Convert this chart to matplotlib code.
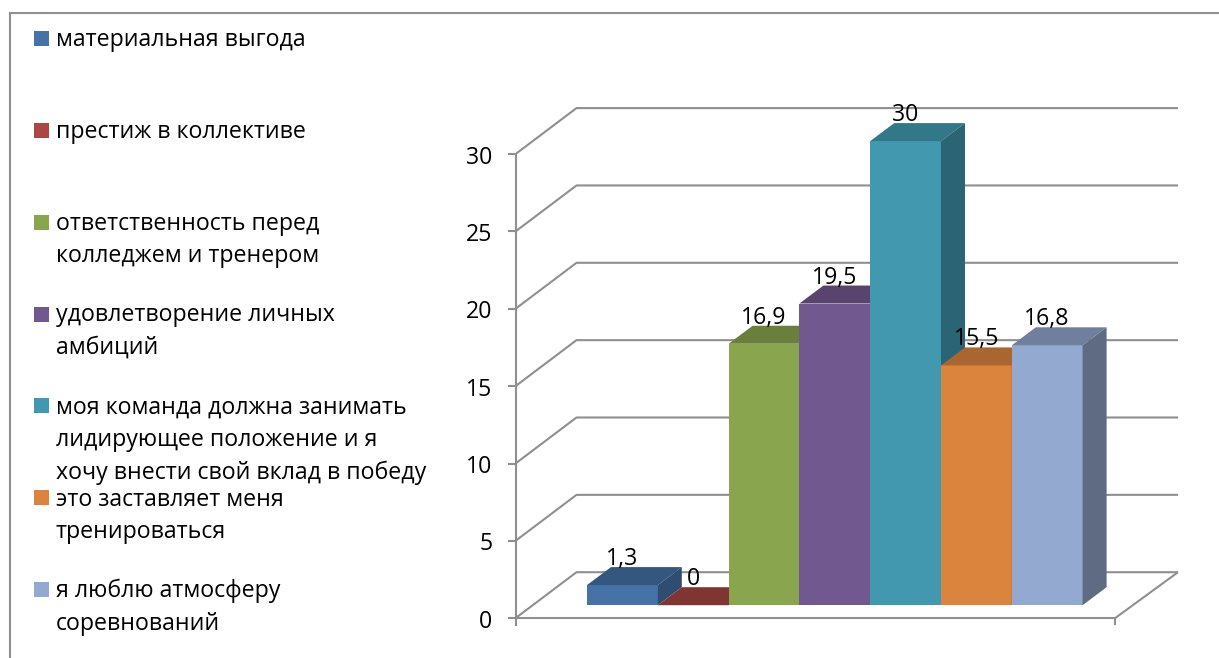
#!/usr/bin/env python3
"""Oblique 3D-style column chart with a left-hand legend."""

import matplotlib

matplotlib.use("Agg")
import matplotlib.pyplot as plt
from matplotlib.lines import Line2D
from matplotlib.patches import Polygon, Rectangle

categories = [
    "материальная выгода",
    "престиж в коллективе",
    "ответственность перед\nколледжем и тренером",
    "удовлетворение личных\nамбиций",
    "моя команда должна занимать\nлидирующее положение и я\nхочу внести свой вклад в победу",
    "это заставляет меня\nтренироваться",
    "я люблю атмосферу\nсоревнований",
]
values = [1.3, 0, 16.9, 19.5, 30, 15.5, 16.8]
value_labels = ["1,3", "0", "16,9", "19,5", "30", "15,5", "16,8"]
y_ticks = [0, 5, 10, 15, 20, 25, 30]

front_colors = ["#4572a7", "#aa4643", "#89a54e", "#71588f", "#4198af", "#db843d", "#93a9cf"]
top_colors = ["#34577f", "#803533", "#6a7f3c", "#58446f", "#337888", "#a96630", "#717f9f"]
side_colors = ["#2e4d70", "#70302e", "#5c6e34", "#4c3b60", "#2a6475", "#93592a", "#5e6b82"]

WIDTH, HEIGHT = 1219, 658
DPI = 100
GRID = "#8f8f8f"
FONT = "Open Sans"
FONT_SIZE = 16.7

# pixel scales of the chart
PX_X = 70.8
PX_Y = 15.47
BAR_X0 = 587.0
BAR_Y0 = 605.2

# offsets, in data units
DEPTH_X = 24 / PX_X
DEPTH_Y = 18 / PX_Y
WALL_X = (515.5 - BAR_X0) / PX_X
WALL_Y = (BAR_Y0 - 618.2) / PX_Y
BACK_X = 61 / PX_X
BACK_Y = 46 / PX_Y
BACK_RIGHT = 63 / PX_X
FLOOR_W = (1115 - 515.5) / PX_X


def main() -> int:
    fig = plt.figure(figsize=(WIDTH / DPI, HEIGHT / DPI), dpi=DPI)
    ax = fig.add_axes([0, 0, 1, 1])
    ax.set_xlim(-BAR_X0 / PX_X, (WIDTH - BAR_X0) / PX_X)
    ax.set_ylim((BAR_Y0 - HEIGHT) / PX_Y, BAR_Y0 / PX_Y)
    ax.axis("off")

    line_kw = dict(color=GRID, lw=1.5, solid_capstyle="butt", zorder=1)

    # walls and gridlines
    for v in y_ticks:
        y = WALL_Y + v
        ax.plot([WALL_X, WALL_X + BACK_X, WALL_X + FLOOR_W + BACK_RIGHT],
                [y, y + BACK_Y, y + BACK_Y], **line_kw)
        ax.plot([WALL_X - 8 / PX_X, WALL_X], [y, y], **line_kw)
        ax.annotate(str(v), (WALL_X, y), xytext=(-23, -3.5), textcoords="offset pixels",
                    ha="right", va="center", family=FONT, fontsize=FONT_SIZE, color="black")

    # axis lines and floor
    ax.plot([WALL_X, WALL_X], [WALL_Y - 8 / PX_Y, WALL_Y + y_ticks[-1]], **line_kw)
    ax.plot([WALL_X, WALL_X + FLOOR_W], [WALL_Y, WALL_Y], **line_kw)
    ax.plot([WALL_X + FLOOR_W, WALL_X + FLOOR_W], [WALL_Y, WALL_Y - 7 / PX_Y], **line_kw)
    ax.plot([WALL_X + FLOOR_W, WALL_X + FLOOR_W + BACK_RIGHT], [WALL_Y, WALL_Y + BACK_Y], **line_kw)

    # columns, left to right so later ones cover earlier ones
    for i, v in enumerate(values):
        ax.bar(i, v, width=1, align="edge", color=front_colors[i], zorder=2 + i)
        ax.add_patch(Polygon(
            [(i, v), (i + 1, v), (i + 1 + DEPTH_X, v + DEPTH_Y), (i + DEPTH_X, v + DEPTH_Y)],
            closed=True, facecolor=top_colors[i], edgecolor="none", zorder=2 + i))
        ax.add_patch(Polygon(
            [(i + 1, 0), (i + 1 + DEPTH_X, DEPTH_Y), (i + 1 + DEPTH_X, v + DEPTH_Y), (i + 1, v)],
            closed=True, facecolor=side_colors[i], edgecolor="none", zorder=2 + i))

    for i, v in enumerate(values):
        ax.annotate(value_labels[i], (i + 0.5, v + DEPTH_Y), xytext=(0, 8),
                    textcoords="offset pixels", ha="center", va="center",
                    family=FONT, fontsize=FONT_SIZE, color="black", zorder=20)

    # legend, placed in pixels from the top left
    to_fig = lambda px, py: (px / WIDTH, 1 - py / HEIGHT)
    swatch_y = [38.5, 130, 222, 314, 405, 497, 589]
    text_y = [39.5, 131.5, 240, 331, 440.5, 516, 607.5]
    for i, name in enumerate(categories):
        fx, fy = to_fig(34, swatch_y[i] + 7.5)
        fig.add_artist(Rectangle((fx, fy), 15 / WIDTH, 15 / HEIGHT, transform=fig.transFigure,
                                 facecolor=front_colors[i], edgecolor="none"))
        tx, ty = to_fig(56, text_y[i])
        fig.text(tx, ty, name, ha="left", va="center", family=FONT, fontsize=FONT_SIZE,
                 color="black", linespacing=1.47)

    # outer frame: left and top edges only show in the crop
    x0, y0 = to_fig(10, 13)
    fig.add_artist(Line2D([x0, x0], [0, y0], transform=fig.transFigure, color=GRID, lw=1.5))
    fig.add_artist(Line2D([x0, 1], [y0, y0], transform=fig.transFigure, color=GRID, lw=1.5))

    fig.savefig("out.png", dpi=DPI, facecolor="white")
    plt.close(fig)
    return 0


if __name__ == "__main__":
    raise SystemExit(main())
